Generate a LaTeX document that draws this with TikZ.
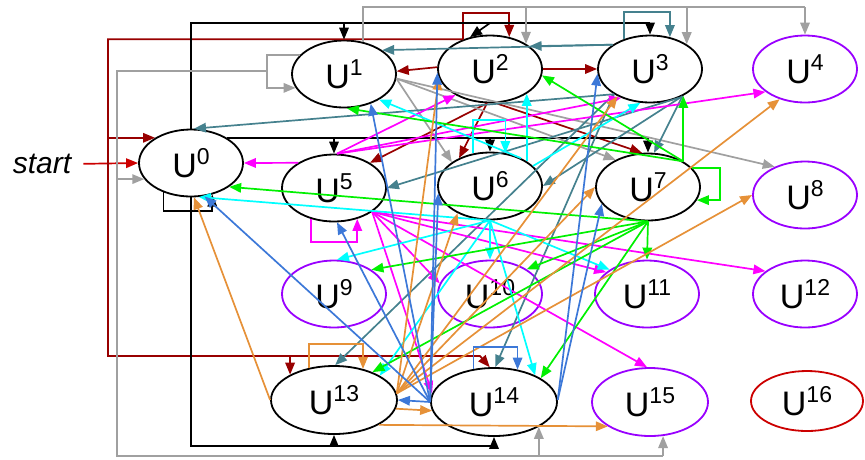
\documentclass[tikz,border=0pt]{standalone}
\usepackage{fontspec}
\setmainfont{Liberation Sans}
\usetikzlibrary{arrows.meta,shapes.geometric,calc}
\definecolor{dred}{HTML}{980000}
\definecolor{sred}{HTML}{CC0000}
\definecolor{gry}{HTML}{A0A0A0}
\definecolor{tealc}{HTML}{45818E}
\definecolor{mag}{HTML}{FF00FF}
\definecolor{cyn}{HTML}{00FFFF}
\definecolor{grn}{HTML}{00F000}
\definecolor{orng}{HTML}{E69138}
\definecolor{blu}{HTML}{3C78D8}
\definecolor{purp}{HTML}{9900FF}
\newcommand{\ulab}[1]{\fontsize{34}{34}\selectfont U\raisebox{13pt}{\fontsize{23}{23}\selectfont #1}}
\begin{document}
\begin{tikzpicture}[x=1pt,y=-1pt,
  stnode/.style={ellipse,draw=black,line width=1.8pt,minimum width=104pt,minimum height=67pt,inner sep=0pt},
  widenode/.style={minimum width=126pt,minimum height=68pt},
  midnode/.style={minimum width=116pt,minimum height=68pt},
  arr/.style={line width=1.7pt,-{Triangle[length=12pt,width=9.5pt]}},
  wire/.style={line width=1.7pt},
]
\useasboundingbox (0,0) rectangle (865,459);

\node[stnode] (U0) at (191,163) {\ulab{0}};
\node[stnode] (U1) at (344,74) {\ulab{1}};
\node[stnode] (U2) at (490,69) {\ulab{2}};
\node[stnode] (U3) at (650,69) {\ulab{3}};
\node[stnode,draw=purp] (U4) at (805,69) {\ulab{4}};
\node[stnode] (U5) at (334,188) {\ulab{5}};
\node[stnode] (U6) at (490,186) {\ulab{6}};
\node[stnode] (U7) at (648,187) {\ulab{7}};
\node[stnode,draw=purp] (U8) at (805,195) {\ulab{8}};
\node[stnode,draw=purp] (U9) at (334,294) {\ulab{9}};
\node[stnode,draw=purp] (U10) at (490,294) {\ulab{10}};
\node[stnode,draw=purp] (U11) at (647,294) {\ulab{11}};
\node[stnode,draw=purp] (U12) at (805,294) {\ulab{12}};
\node[stnode,widenode] (U13) at (334,400) {\ulab{13}};
\node[stnode,widenode] (U14) at (494,402) {\ulab{14}};
\node[stnode,midnode,draw=purp] (U15) at (650,402) {\ulab{15}};
\node[stnode,draw=sred,minimum width=112pt,minimum height=60pt] (U16) at (807,401) {\ulab{16}};

\node[font=\fontsize{30}{30}\selectfont\itshape,inner sep=0pt] (start) at (42,164) {start};
\draw[arr,sred,shorten <=12pt] (start.east) -- (U0.west);

% dark red (from U2)
\draw[arr,dred] (U2.132) -- (U2.132 |- 0,13) -| (U2.59);
\draw[arr,dred] (U2.132) -| (108,356) -- (480,356) -- (U14.97);
\draw[arr,dred] (U0.145 -| 108,0) -- (U0.145);
\draw[arr,dred] (U13.150 |- 0,356) -- (U13.150);
\draw[arr,dred] (U2.178) -- (U1.3);
\draw[arr,dred] (U2.east) -- (U3.west);
\draw[arr,dred] (U2.-95) -- (U5.35);
\draw[arr,dred] (U2.-95) -- (U6.138);
\draw[arr,dred] (U2.-80) -- (U7.100);

% black (from U0)
\draw[wire] (U0.north) |- (U3.north |- 0,23);
\draw[arr] (U1.north |- 0,23) -- (U1.north);
\draw[arr] (U2.north |- 0,23) -- (U2.122);
\draw[arr] (U3.north |- 0,23) -- (U3.north);
\draw[wire] (U0.35) -- (U0.35 -| U7.north);
\draw[arr] (U5.north |- U0.35) -- (U5.north);
\draw[arr] (U6.north |- U0.35) -- (U6.north);
\draw[arr] (U7.north |- U0.35) -- (U7.north);
\draw[arr] (U0.227) -- (U0.227 |- 0,211) -| (U0.304);
\draw[wire] (U0.south) |- (U14.south |- 0,446);
\draw[arr] (U13.south |- 0,446) -- (U13.south);
\draw[arr] (U14.south |- 0,446) -- (U14.south);

% gray (from U1)
\draw[arr,gry] (U1.157) -- (U1.157 -| 267,0) |- (U1.196);
\draw[wire,gry] (267,71) -- (117,71) -- (117,456) -- (U15.-69 |- 0,456);
\draw[arr,gry] (U0.199 -| 117,0) -- (U0.199);
\draw[arr,gry] (U14.-29 |- 0,456) -- (U14.-29);
\draw[arr,gry] (U15.-69 |- 0,456) -- (U15.-69);
\draw[wire,gry] (U1.59) -- (U1.59 |- 0,7) -- (U4.north |- 0,7);
\draw[arr,gry] (U2.35 |- 0,7) -- (U2.35);
\draw[arr,gry] (U3.34 |- 0,7) -- (U3.34);
\draw[arr,gry] (U4.north |- 0,7) -- (U4.north);
\draw[arr,gry] (U1.-5) -- (U6.148);
\draw[arr,gry] (U1.-5) -- (U7.140);
\draw[arr,gry] (U1.-5) -- (U8.137);

% teal (from U3)
\draw[arr,tealc] (U3.131) -- (U3.131 |- 0,12) -| (U3.58);
\draw[arr,tealc] (U3.147) -- (U2.30);
\draw[arr,tealc] (U3.147) -- (U1.32);
\draw[arr,tealc] (U3.-145) -- (U0.85);
\draw[arr,tealc] (U3.-145) -- (U13.88);
\draw[arr,tealc] (U3.-145) -- (U14.88);
\draw[arr,tealc] (U3.-45) -- (U5.east);
\draw[arr,tealc] (U3.-40) -- (U6.east);
\draw[arr,tealc] (U3.-40) -- (U7.80);

% magenta (from U5)
\draw[arr,mag] (U5.233) -- (U5.233 |- 0,242) -| (U5.307);
\draw[arr,mag] (U5.145) -- (U0.east);
\draw[arr,mag] (U5.85) -- (U2.-143);
\draw[arr,mag] (U5.85) -- (U3.-135);
\draw[arr,mag] (U5.85) -- (U4.-150);
\draw[arr,mag] (U5.-32) -- (U10.168);
\draw[arr,mag] (U5.-32) -- (U11.152);
\draw[arr,mag] (U5.-32) -- (U12.150);
\draw[arr,mag] (U5.-32) -- (U15.95);
\draw[arr,mag] (U5.-32) -- (U14.172);

% cyan (from U6)
\draw[arr,cyn] (U6.118) -- (U6.118 |- 0,120) -| (U6.65);
\draw[arr,cyn] (U6.34) -- (U6.34 |- U2.-34);
\draw[arr,cyn] (U6.42) -- (U1.-36);
\draw[arr,cyn] (U6.25) -- (U3.-106);
\draw[arr,cyn] (U6.south) -- (U0.-77);
\draw[arr,cyn] (U6.south) -- (U9.85);
\draw[arr,cyn] (U6.south) -- (U10.north);
\draw[arr,cyn] (U6.south) -- (U11.147);
\draw[arr,cyn] (U6.south) -- (U13.28);
\draw[arr,cyn] (U6.south) -- (U14.33);

% green (from U7)
\draw[arr,grn] (U7.23) -- (U7.23 -| 720,0) |- (U7.-15);
\draw[arr,grn] (U7.36) -- (U7.36 |- U3.-39);
\draw[arr,grn] (U7.36) -- (U2.-7);
\draw[arr,grn] (U7.36) -- (U1.-85);
\draw[arr,grn] (U7.south) -- (U0.-32);
\draw[arr,grn] (U7.south) -- (U9.33);
\draw[arr,grn] (U7.south) -- (U10.34);
\draw[arr,grn] (U7.south) -- (U11.north);
\draw[arr,grn] (U7.south) -- (U13.36);
\draw[arr,grn] (U7.south) -- (U14.27);

% orange (from U13)
\draw[arr,orng] (U13.128) -- (U13.128 |- 0,344) -| (U13.47);
\draw[arr,orng] (U13.west) -- (U0.-85);
\draw[arr,orng] (U13.-8) -- (U14.-172);
\draw[arr,orng] (U13.-29) -- (U15.-150);
\draw[arr,orng] (U13.6) -- (U2.-170);
\draw[arr,orng] (U13.6) -- (U6.-140);
\draw[arr,orng] (U13.6) -- (U3.-140);
\draw[arr,orng] (U13.6) -- (U7.west);
\draw[arr,orng] (U13.6) -- (U4.-130);
\draw[arr,orng] (U13.6) -- (U8.west);

% blue (from U14)
\draw[arr,blu] (U14.122) -- (U14.122 |- 0,347) -| (U14.54);
\draw[arr,blu] (U14.180) -- (U13.east);
\draw[arr,blu] (U14.180) -- (U0.-68);
\draw[arr,blu] (U14.180) -- (U5.-85);
\draw[arr,blu] (U14.180) -- (U1.-48);
\draw[arr,blu] (U14.180) -- (U2.-176);
\draw[arr,blu] (U14.180) -- (U6.-172);
\draw[arr,blu] (U14.2) -- (U3.-175);
\draw[arr,blu] (U14.2) -- (U7.-160);
\end{tikzpicture}
\end{document}
